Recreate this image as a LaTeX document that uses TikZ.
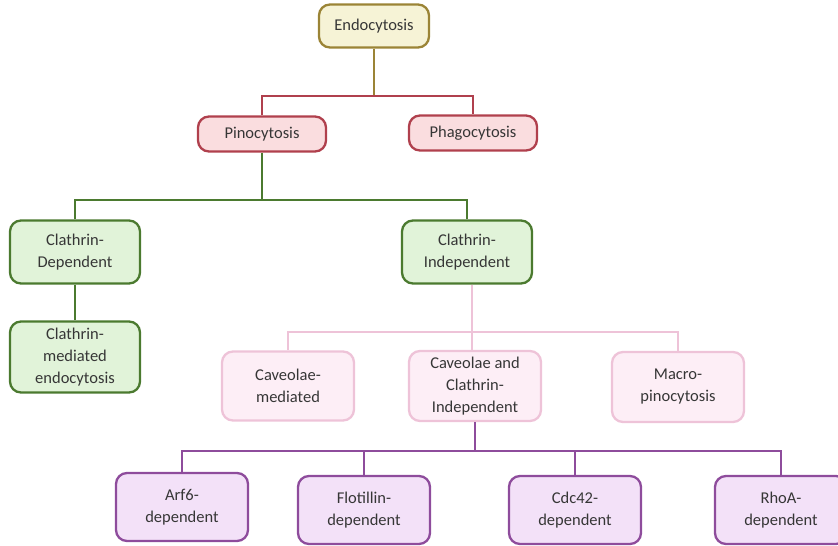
\documentclass[tikz,border=0pt]{standalone}
\usepackage{fontspec}
\setmainfont{Carlito}
\usepackage{tikz}
\usetikzlibrary{positioning}

\definecolor{goldfill}{HTML}{F6F3D6}
\definecolor{golddraw}{HTML}{9B8436}
\definecolor{redfill}{HTML}{FADDDF}
\definecolor{reddraw}{HTML}{B0404D}
\definecolor{greenfill}{HTML}{E1F3D9}
\definecolor{greendraw}{HTML}{4B7A2F}
\definecolor{pinkfill}{HTML}{FDEEF6}
\definecolor{pinkdraw}{HTML}{EEC3D8}
\definecolor{purplefill}{HTML}{F3E1F8}
\definecolor{purpledraw}{HTML}{8E4C9C}
\definecolor{txt}{HTML}{363636}

\begin{document}
\begin{tikzpicture}[x=1pt, y=-1pt, font=\fontsize{16.5}{22}\selectfont, text=txt,
  box/.style={rounded corners=11pt, line width=2.3pt, align=center, inner sep=2pt},
  rootbox/.style={box, draw=golddraw, fill=goldfill, minimum width=110pt, minimum height=43pt},
  typebox/.style={box, draw=reddraw, fill=redfill, minimum width=128pt, minimum height=35pt},
  clathbox/.style={box, draw=greendraw, fill=greenfill, minimum width=130pt, minimum height=63pt},
  routebox/.style={box, draw=pinkdraw, fill=pinkfill, minimum width=132pt, minimum height=69pt},
  depbox/.style={box, draw=purpledraw, fill=purplefill, minimum width=132pt, minimum height=68pt},
  link/.style={line width=1.2pt}]
\useasboundingbox (0,0) rectangle (838,546);
\node[rootbox] (endo) at (374,26) {Endocytosis};
\node[typebox] (pino) at (262,134) {Pinocytosis};
\node[typebox] (phago) at (473,133) {Phagocytosis};
\node[clathbox] (cdep) at (75,252) {Clathrin-\\Dependent};
\node[clathbox, minimum height=71pt] (cmed) at (75,357) {Clathrin-\\mediated\\endocytosis};
\node[clathbox] (cind) at (467,252) {Clathrin-\\Independent};
\node[routebox] (cavm) at (288,386) {Caveolae-\\mediated};
\node[routebox, minimum height=70pt] (ccind) at (475,386) {Caveolae and\\Clathrin-\\Independent};
\node[routebox, minimum height=70pt] (macro) at (678,387) {Macro-\\pinocytosis};
\node[depbox] (arf6) at (182,507) {Arf6-\\dependent};
\node[depbox] (flot) at (364,510) {Flotillin-\\dependent};
\node[depbox] (cdc42) at (575,510) {Cdc42-\\dependent};
\node[depbox] (rhoa) at (781,510) {RhoA-\\dependent};
\coordinate (j1) at (374,96);
\coordinate (j2) at (262,200);
\coordinate (j3) at (472,332);
\coordinate (j4) at (475,451);
% endocytosis branches
\draw[link, golddraw] (endo) -- (j1);
\draw[link, reddraw] (pino) |- (j1) -| (phago);
% pinocytosis branches
\draw[link, greendraw] (pino) -- (j2);
\draw[link, greendraw] (cdep) |- (j2) -| (cind);
\draw[link, greendraw] (cdep) -- (cmed);
% clathrin-independent branches
\draw[link, pinkdraw] (j3 |- cind.south) -- (j3);
\draw[link, pinkdraw] (cavm) |- (j3) -| (macro);
\draw[link, pinkdraw] (j3) -- (j3 |- ccind.north);
% caveolae and clathrin-independent branches
\draw[link, purpledraw] (ccind) -- (j4);
\draw[link, purpledraw] (arf6) |- (j4) -| (rhoa);
\draw[link, purpledraw] (flot) |- (j4);
\draw[link, purpledraw] (cdc42) |- (j4);
\end{tikzpicture}
\end{document}
